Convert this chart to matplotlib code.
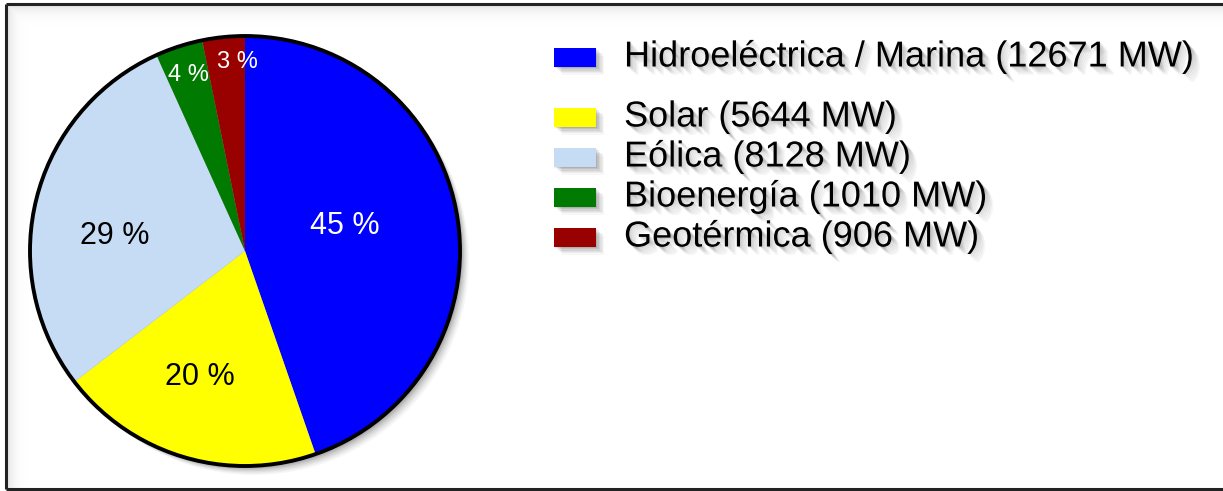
import numpy as np
import matplotlib
matplotlib.use("Agg")
import matplotlib.pyplot as plt
import matplotlib.patheffects as pe
from matplotlib.patches import Circle, Rectangle

plt.rcParams['font.family'] = ['Liberation Sans', 'DejaVu Sans']

# installed capacity by source (MW)
sources = ['Hidroeléctrica / Marina', 'Solar', 'Eólica', 'Bioenergía', 'Geotérmica']
capacity_mw = [12671, 5644, 8128, 1010, 906]
colors = ['#0000ff', '#ffff00', '#c6dcf5', '#007a00', '#990000']
pct_colors = ['white', 'black', 'black', 'white', 'white']
# label placement inside each wedge: radius and angular nudge (deg)
pct_radius = [0.48, 0.62, 0.61, 0.86, 0.88]
pct_nudge = [4.4, -3.0, 7.5, 0.0, -3.4]
pct_size = [22, 22, 22, 17, 17]

W, H = 1223, 491
fig = plt.figure(figsize=(W / 100, H / 100), dpi=100)
fig.patch.set_facecolor('white')

# frame with a soft inner shadow along top and left
bg = fig.add_axes([0, 0, 1, 1], zorder=0)
bg.set_axis_off()
yy, xx = np.mgrid[0:H, 0:W]
d = np.minimum(yy - 5, xx - 7).clip(0, None)
shade = np.exp(-d / 6.0) * 0.12
img = np.ones((H, W, 4))
img[..., :3] = 0
img[..., 3] = shade
img[(yy < 5) | (xx < 7) | (yy > 488)] = [1, 1, 1, 0]
bg.imshow(img, extent=[0, W, H, 0], aspect='auto')
bg.set_xlim(0, W)
bg.set_ylim(H, 0)
bg.plot([6, W], [4, 4], color='#222222', lw=2.2, solid_capstyle='butt')
bg.plot([6, 6], [4, 489], color='#222222', lw=2.2, solid_capstyle='butt')
bg.plot([6, W], [489, 489], color='#222222', lw=2.2, solid_capstyle='butt')

# pie
cx, cy, r = 245, 251, 215
ax = fig.add_axes([(cx - r) / W, (H - cy - r) / H, 2 * r / W, 2 * r / H], zorder=1)
ax.set_aspect('equal')
ax.set_axis_off()

# blurred drop shadow behind the pie
for k, a in zip(range(1, 8), [0.10, 0.09, 0.08, 0.06, 0.05, 0.04, 0.03]):
    ax.add_patch(Circle((k * 0.006, -k * 0.006), 1.0, facecolor='black',
                        edgecolor='none', alpha=a, zorder=0, clip_on=False))

wedges, _ = ax.pie(capacity_mw, colors=colors, startangle=90, counterclock=False,
                   radius=1.0, wedgeprops=dict(linewidth=0))
for w in wedges:
    w.set_zorder(2)
ax.add_patch(Circle((0, 0), 1.0, facecolor='none', edgecolor='black', lw=2.8,
                    zorder=3, clip_on=False))

total = sum(capacity_mw)
start = 90.0
for val, col, rr, nd, fs in zip(capacity_mw, pct_colors, pct_radius, pct_nudge, pct_size):
    sweep = 360.0 * val / total
    mid = np.deg2rad(start - sweep / 2 + nd)
    start -= sweep
    ax.text(rr * np.cos(mid), rr * np.sin(mid), f'{round(100 * val / total)} %',
            color=col, fontsize=fs, ha='center', va='center', zorder=4)
ax.set_xlim(-1.0, 1.0)
ax.set_ylim(-1.0, 1.0)

# legend with soft shadows
leg = fig.add_axes([0, 0, 1, 1], zorder=2)
leg.set_axis_off()
leg.set_xlim(0, W)
leg.set_ylim(H, 0)
shadow_fx = [pe.SimplePatchShadow(offset=(k, -k), shadow_rgbFace='black', alpha=a)
             for k, a in zip([1, 2, 3, 4, 5, 6], [0.09, 0.08, 0.06, 0.05, 0.04, 0.03])] + [pe.Normal()]
row_y = [57, 117, 157, 197, 237]
for name, val, col, y in zip(sources, capacity_mw, colors, row_y):
    rect = Rectangle((554, y - 9.5), 42, 19, facecolor=col, edgecolor='none')
    rect.set_path_effects(shadow_fx)
    leg.add_patch(rect)
    leg.text(624, y, f'{name} ({val} MW)', fontsize=26, va='center', ha='left',
             color='black', path_effects=shadow_fx)

fig.savefig('out.png', dpi=100)
